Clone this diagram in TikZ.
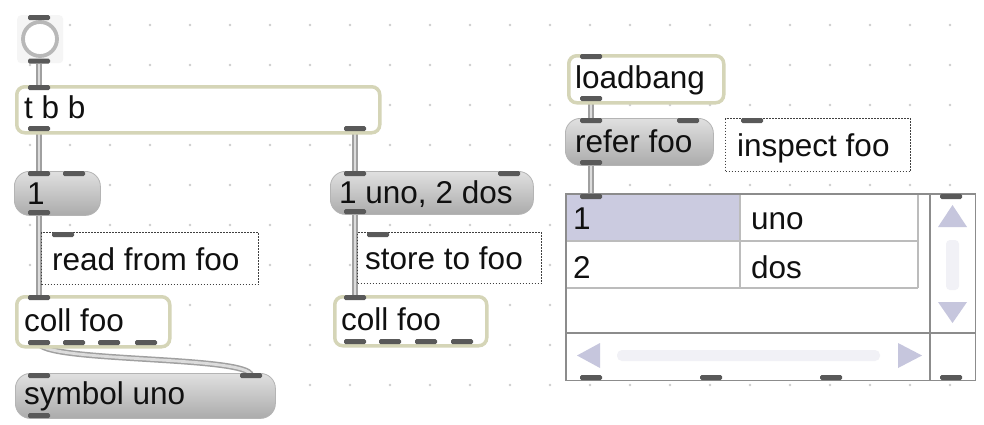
\documentclass[tikz,border=0pt]{standalone}
\usepackage{fontspec}
\setmainfont{Liberation Sans}
\pgfdeclarelayer{grid}
\pgfdeclarelayer{cords}
\pgfsetlayers{grid,cords,main}
\definecolor{objedge}{HTML}{D5D5B7}
\definecolor{portcol}{HTML}{595959}
\definecolor{cordout}{HTML}{A0A0A0}
\definecolor{cordin}{HTML}{DCDCDC}
\definecolor{msgtop}{HTML}{E0E0E0}
\definecolor{msgmid}{HTML}{CDCDCD}
\definecolor{msgbot}{HTML}{ABABAB}
\definecolor{msgedge}{HTML}{B4B4B4}
\definecolor{dotcol}{HTML}{CDCDCD}
\definecolor{cmtedge}{HTML}{404040}
\definecolor{lav}{HTML}{C6C6DD}
\definecolor{cellsel}{HTML}{CBCBE0}
\definecolor{trackcol}{HTML}{F1F1F6}
\definecolor{gridline}{HTML}{BCBCBC}
\definecolor{tabedge}{HTML}{8C8C8C}
\definecolor{ringcol}{HTML}{B8B8B8}
\definecolor{txt}{HTML}{101010}
\begin{document}
\begin{tikzpicture}[x=1pt,y=-1pt,
  objbox/.style={draw=objedge, line width=3.5pt, fill=white, rounded corners=8pt, inner sep=0pt, anchor=north west},
  msgbox/.style={draw=msgedge, line width=0.8pt, top color=msgtop, middle color=msgmid, bottom color=msgbot, rounded corners=15pt, inner sep=0pt, anchor=north west},
  cmtbox/.style={draw=cmtedge, line width=1.3pt, dash pattern=on 1.3pt off 1.7pt, fill=white, inner sep=0pt, anchor=north west},
  port/.style={fill=portcol, rounded corners=1.5pt, minimum width=22pt, minimum height=5pt, inner sep=0pt},
  lbl/.style={font=\fontsize{31.5}{36}\selectfont, text=txt, inner sep=0pt, anchor=base west},
  cord/.style={draw=cordout, line width=1.5pt, double=cordin, double distance=2.8pt},
  cellline/.style={draw=gridline, line width=1.3pt},
  arrowtri/.style={fill=lav}
]
\useasboundingbox (0,0) rectangle (984,424);

% patcher background with its dot grid
\begin{pgfonlayer}{grid}
  \fill[white] (0,0) rectangle (984,424);
  \foreach \x in {30,70,...,950}
    \foreach \y in {25,65,...,385}
      \fill[dotcol] (\x,\y) circle (1.3);
\end{pgfonlayer}

% button
\node[fill=black!4, rounded corners=4pt, minimum width=46pt, minimum height=48pt, inner sep=0pt, anchor=north west] (btn) at (17,15) {};
\node[draw=ringcol, line width=3.8pt, fill=white, circle, minimum size=34pt, inner sep=0pt] (ring) at (40,39) {};
\node[port] (btn-i1) at (39,17.5) {};
\node[port] (btn-o1) at (39,61) {};

% t b b
\node[objbox, minimum width=363pt, minimum height=46pt] (tbb) at (15,85) {};
\node[lbl] (tbb-t) at (24,118) {t b b};
\node[port] (tbb-i1) at (39,87.5) {};
\node[port] (tbb-o1) at (39,128.5) {};
\node[port] (tbb-o2) at (355,128.5) {};

% message 1
\node[msgbox, minimum width=86pt, minimum height=44pt] (m1) at (14,171) {};
\node[lbl] (m1-t) at (27,204) {1};
\node[port] (m1-i1) at (39,173.5) {};
\node[port] (m1-i2) at (74,173.5) {};
\node[port] (m1-o1) at (39,212.5) {};

% message 1 uno, 2 dos
\node[msgbox, minimum width=203pt, minimum height=43pt] (m2) at (330,171) {};
\node[lbl] (m2-t) at (339,203) {1 uno, 2 dos};
\node[port] (m2-i1) at (355,173.5) {};
\node[port] (m2-i2) at (509,173.5) {};
\node[port] (m2-o1) at (355,211.5) {};

% comments
\node[cmtbox, minimum width=217pt, minimum height=52pt] (k1) at (41,232) {};
\node[lbl] (k1-t) at (52,270) {read from foo};
\node[port] (k1-i1) at (63,234.5) {};
\node[cmtbox, minimum width=184pt, minimum height=51pt] (k2) at (357,232) {};
\node[lbl] (k2-t) at (365,269) {store to foo};
\node[port] (k2-i1) at (378,234.5) {};

% coll foo (left)
\node[objbox, minimum width=153pt, minimum height=50pt] (c1) at (15,295) {};
\node[lbl] (c1-t) at (24,331) {coll foo};
\node[port] (c1-i1) at (39,297.5) {};
\node[port] (c1-o1) at (39,342.5) {};
\node[port] (c1-o2) at (74,342.5) {};
\node[port] (c1-o3) at (109,342.5) {};
\node[port] (c1-o4) at (146,342.5) {};

% coll foo (right)
\node[objbox, minimum width=152pt, minimum height=49pt] (c2) at (333,295) {};
\node[lbl] (c2-t) at (341,330) {coll foo};
\node[port] (c2-i1) at (355,297.5) {};
\node[port] (c2-o1) at (355,341.5) {};
\node[port] (c2-o2) at (390,341.5) {};
\node[port] (c2-o3) at (426,341.5) {};
\node[port] (c2-o4) at (462,341.5) {};

% symbol uno
\node[msgbox, minimum width=260pt, minimum height=45pt] (sym) at (15,373) {};
\node[lbl] (sym-t) at (24,404) {symbol uno};
\node[port] (sym-i1) at (39,375.5) {};
\node[port] (sym-i2) at (251,375.5) {};
\node[port] (sym-o1) at (39,415.5) {};

% loadbang / refer foo / inspect foo
\node[objbox, minimum width=155pt, minimum height=47pt] (lb) at (567,54) {};
\node[lbl] (lb-t) at (575,88) {loadbang};
\node[port] (lb-i1) at (591,56.5) {};
\node[port] (lb-o1) at (591,98.5) {};

\node[msgbox, minimum width=148pt, minimum height=47pt] (ref) at (565,118) {};
\node[lbl] (ref-t) at (575,152) {refer foo};
\node[port] (ref-i1) at (591,120.5) {};
\node[port] (ref-i2) at (688,120.5) {};
\node[port] (ref-o1) at (591,162.5) {};

\node[cmtbox, minimum width=185pt, minimum height=53pt] (k3) at (725,118) {};
\node[lbl] (k3-t) at (737,156) {inspect foo};
\node[port] (k3-i1) at (752,120.5) {};

% cell table with its scroll bars
\node[fill=white, minimum width=409pt, minimum height=186pt, inner sep=0pt, anchor=north west] (tab) at (566,194) {};
\fill[cellsel] (566,194) rectangle (740,241);
\draw[cellline] (566,241) -- (918,241);
\draw[cellline] (566,288) -- (918,288);
\draw[cellline] (740,194) -- (740,288);
\draw[cellline] (918,194) -- (918,288);
\draw[draw=tabedge, line width=1.2pt] (930,194) -- (930,380);
\draw[draw=tabedge, line width=1.2pt] (566,333) -- (975,333);
\fill[trackcol, rounded corners=4pt] (946,240) rectangle (959,290);
\fill[trackcol, rounded corners=5pt] (617,350) rectangle (880,361);
\fill[arrowtri] (938,227) -- (967,227) -- (952.5,205) -- cycle;
\fill[arrowtri] (938,302) -- (967,302) -- (952.5,323) -- cycle;
\fill[arrowtri] (600,343) -- (600,368) -- (577,355.5) -- cycle;
\fill[arrowtri] (898,343) -- (898,368) -- (922,355.5) -- cycle;
\draw[draw=tabedge, line width=1.5pt] (tab.north west) rectangle (tab.south east);
\node[lbl] (r1a) at (573,229) {1};
\node[lbl] (r1b) at (751,229) {uno};
\node[lbl] (r2a) at (573,278) {2};
\node[lbl] (r2b) at (751,278) {dos};
\node[port] (tab-i1) at (591,196.5) {};
\node[port] (tab-i2) at (951,196.5) {};
\node[port] (tab-o1) at (591,377.5) {};
\node[port] (tab-o2) at (711,377.5) {};
\node[port] (tab-o3) at (831,377.5) {};
\node[port] (tab-o4) at (951,377.5) {};

% patch cords
\begin{pgfonlayer}{cords}
  \draw[cord] (btn-o1) -- (tbb-i1);
  \draw[cord] (tbb-o1) -- (m1-i1);
  \draw[cord] (tbb-o2) -- (m2-i1);
  \draw[cord] (m1-o1) -- (c1-i1);
  \draw[cord] (m2-o1) -- (c2-i1);
  \draw[cord] (c1-o1.center) .. controls +(0,20) and +(0,-20) .. (sym-i2.center);
  \draw[cord] (lb-o1) -- (ref-i1);
  \draw[cord] (ref-o1) -- (tab-i1);
\end{pgfonlayer}
\end{tikzpicture}
\end{document}
